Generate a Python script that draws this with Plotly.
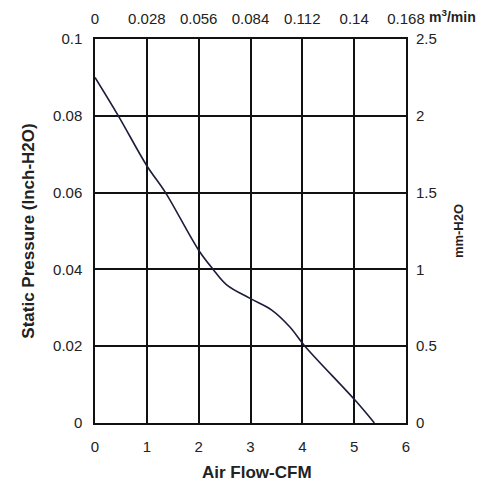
import plotly.graph_objects as go

# fan curve
airflow_cfm = [0, 0.45, 1.0, 1.36, 2.0, 2.28, 2.54, 3.0, 3.41, 3.76, 4.05, 5.02, 5.39]
pressure_inh2o = [0.090, 0.080, 0.067, 0.060, 0.045, 0.040, 0.036, 0.0324, 0.0294, 0.025, 0.020, 0.0059, 0.0]

bottom_ticks = [0, 1, 2, 3, 4, 5, 6]
left_ticks = [0, 0.02, 0.04, 0.06, 0.08, 0.1]
top_ticks = [0, 0.028, 0.056, 0.084, 0.112, 0.14, 0.168]
right_ticks = [0, 0.5, 1, 1.5, 2, 2.5]

font = dict(family="Liberation Sans, Arial, sans-serif", size=15, color="#222")

fig = go.Figure()
fig.add_trace(go.Scatter(
    x=airflow_cfm, y=pressure_inh2o, mode="lines",
    line=dict(color="#1c1c3c", width=1.6, shape="spline", smoothing=1.0),
    hoverinfo="skip", showlegend=False,
))
# invisible trace so the secondary axes are drawn
fig.add_trace(go.Scatter(
    x=[0, 0.168], y=[0, 2.5], xaxis="x2", yaxis="y2", mode="markers",
    marker=dict(opacity=0), hoverinfo="skip", showlegend=False,
))

grid = dict(showgrid=True, gridcolor="#111", gridwidth=1.5, zeroline=False,
            showline=True, linecolor="#111", linewidth=1.5, ticks="")

# the page body adds an 8px offset, so the figure is sized 480x480
fig.update_layout(
    width=480, height=480,
    margin=dict(l=87, r=82, t=31, b=65, autoexpand=False),
    paper_bgcolor="white", plot_bgcolor="white",
    font=font,
    xaxis=dict(range=[0, 6], tickvals=bottom_ticks, mirror=True,
               ticklabelstandoff=9, **grid),
    yaxis=dict(range=[0, 0.1], tickvals=left_ticks,
               ticktext=["0", "0.02", "0.04", "0.06", "0.08", "0.1"], mirror=True,
               title=dict(text="<b>Static Pressure (Inch-H2O)</b>", standoff=14, font=dict(size=17)),
               ticklabelstandoff=8, **grid),
    xaxis2=dict(range=[0, 0.168], tickvals=top_ticks,
                ticktext=["0", "0.028", "0.056", "0.084", "0.112", "0.14", "0.168"],
                overlaying="x", side="top", showgrid=False, zeroline=False, ticks="",
                ticklabelstandoff=11),
    yaxis2=dict(range=[0, 2.5], tickvals=right_ticks,
                ticktext=["0", "0.5", "1", "1.5", "2", "2.5"],
                overlaying="y", side="right", showgrid=False, zeroline=False, ticks="",
                title=dict(text="<b>mm-H2O</b>", standoff=18, font=dict(size=13)),
                ticklabelstandoff=9),
)

# bottom axis title sits a little right of centre in the original
fig.add_annotation(
    text="<b>Air Flow-CFM</b>", xref="paper", yref="paper",
    x=0.522, y=0.0, xanchor="center", yanchor="middle", yshift=-49,
    showarrow=False, font=dict(size=17),
)
fig.add_annotation(
    text="<b>m<sup>3</sup>/min</b>", xref="paper", yref="paper",
    x=1.067, y=1.0, xanchor="left", yanchor="middle", yshift=23,
    showarrow=False, font=dict(size=14),
)

fig.write_html("out.html")
